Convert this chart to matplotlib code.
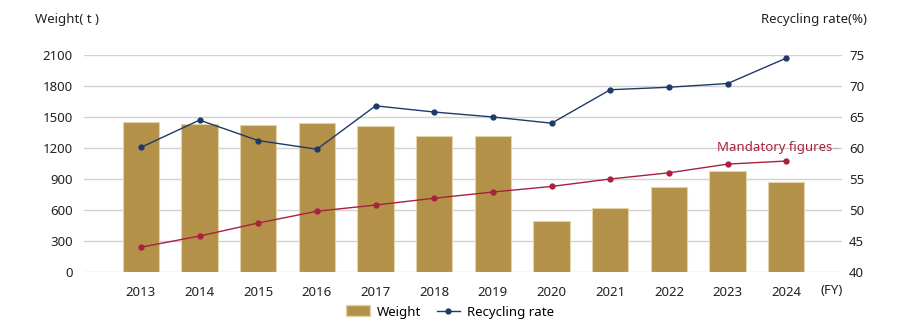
import numpy as np
import matplotlib
matplotlib.use("Agg")
import matplotlib.pyplot as plt
from matplotlib.patches import Patch
from matplotlib.lines import Line2D

plt.rcParams['font.family'] = ['Noto Sans', 'DejaVu Sans']

years = ['2013', '2014', '2015', '2016', '2017', '2018', '2019', '2020', '2021', '2022', '2023', '2024']
weight = [1450, 1430, 1420, 1440, 1410, 1320, 1320, 495, 620, 820, 980, 875]
recycling_rate = [60.1, 64.5, 61.2, 59.8, 66.8, 65.8, 65.0, 64.0, 69.4, 69.8, 70.4, 74.5]
mandatory = [44.0, 45.8, 47.9, 49.8, 50.8, 51.9, 52.9, 53.8, 55.0, 56.0, 57.4, 57.9]
left_ticks = [0, 300, 600, 900, 1200, 1500, 1800, 2100]
right_ticks = [40, 45, 50, 55, 60, 65, 70, 75]

gold = '#B39149'
navy = '#1E3A68'
red = '#A8213F'
txt = '#222222'
fs = 9.5

fig = plt.figure(figsize=(9, 3.29), dpi=100)
ax = fig.add_axes([0.0933, 0.1733, 0.8423, 0.6595])
ax2 = ax.twinx()

x = np.arange(len(years))
ax.bar(x, weight, width=0.62, color=gold, edgecolor='#E2D3A8', linewidth=0.8, zorder=2)
ax.set_ylim(0, 2100)
ax.set_yticks(left_ticks)
ax.set_xlim(-0.97, 11.95)
ax.set_xticks(x)
ax.set_xticklabels(years)
for t in left_ticks:
    ax.axhline(t, color='#D2D2D2', linewidth=1.0, zorder=1)

ax2.plot(x, recycling_rate, color=navy, linewidth=1.0, marker='o', markersize=3.5, zorder=3, clip_on=False)
ax2.plot(x, mandatory, color=red, linewidth=1.0, marker='o', markersize=3.5, zorder=3, clip_on=False)
ax2.set_ylim(40, 75)
ax2.set_yticks(right_ticks)

for a in (ax, ax2):
    for s in a.spines.values():
        s.set_visible(False)
    a.tick_params(length=0, labelsize=fs, colors=txt)
ax.tick_params(axis='y', pad=8)
ax2.tick_params(axis='y', pad=5)
ax.tick_params(axis='x', pad=10)

ax2.text(11.78, 60, 'Mandatory figures', color=red, fontsize=fs, ha='right', va='center')
ax2.plot([11.8, 11.88], [60, 60], color='#BBBBBB', linewidth=0.8)

fig.text(35 / 900, 1 - 20 / 329, 'Weight( t )', fontsize=fs, color=txt, ha='left', va='center')
fig.text(867 / 900, 1 - 20 / 329, 'Recycling rate(%)', fontsize=fs, color=txt, ha='right', va='center')
fig.text(843 / 900, 1 - 290 / 329, '(FY)', fontsize=fs, color=txt, ha='right', va='center')

handles = [Patch(facecolor=gold, edgecolor='#E2D3A8'),
           Line2D([0], [0], color=navy, linewidth=1.0, marker='o', markersize=3.5)]
fig.legend(handles, ['Weight', 'Recycling rate'], loc='center', bbox_to_anchor=(450 / 900, 1 - 312 / 329),
           ncol=2, frameon=False, fontsize=fs, handlelength=1.8, handleheight=0.9, columnspacing=1.2,
           handletextpad=0.5)

fig.savefig('out.png', dpi=100)
